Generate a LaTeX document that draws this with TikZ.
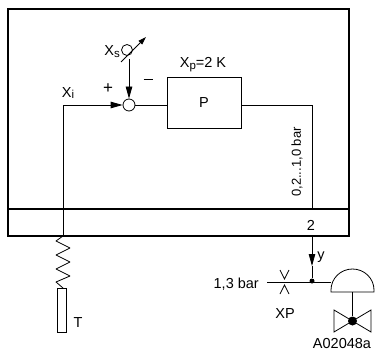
\documentclass[tikz,border=0pt]{standalone}
\usepackage{fontspec}
\setmainfont{Liberation Sans}
\usetikzlibrary{arrows.meta}
\newcommand{\mysub}[1]{\raisebox{-0.25ex}{\fontsize{11.5}{12}\selectfont #1}}
\begin{document}
\begin{tikzpicture}[x=1pt,y=-1pt,
  thin line/.style={line width=0.8pt},
  thick frame/.style={line width=1.6pt},
  lbl/.style={inner sep=0pt,font=\fontsize{14.5}{16}\selectfont},
  tip/.style={-{Triangle[length=12pt,width=6.5pt]}},
  dotnode/.style={circle,fill,inner sep=0pt,minimum size=#1}]
\useasboundingbox (0,0) rectangle (375,361);
% frame
\draw[thick frame] (8,9) rectangle (349,236);
\draw[thick frame] (8,209) -- (349,209);
% summing junction
\node[circle,draw,thin line,minimum size=12pt,inner sep=0pt] (sum) at (129,105) {};
% P box
\node[draw,thin line,minimum width=74pt,minimum height=51pt,inner sep=0pt] (pbox) at (204,102.5) {};
\node[lbl] (plab) at (204,103) {P};
% Xi input
\coordinate (xib) at (63,236);
\coordinate (xic) at (63,105);
\draw[thin line,tip] (xib) -- (xic) -- (sum.west);
% setpoint potentiometer
\node[circle,draw,thin line,minimum size=11pt,inner sep=0pt] (pot) at (127,50) {};
\coordinate (pa) at (121,62);
\coordinate (pb) at (146,37);
\draw[thin line,-{Triangle[length=8pt,width=5pt]}] (pa) -- (pb);
\coordinate (sp) at (129,59);
\draw[thin line,tip] (sp) -- (sum.north);
% labels near sum
\node[lbl,anchor=east] (xs) at (120,52) {X\mysub{s}};
\node[lbl] (minus) at (148,81) {\rule[0.3ex]{9pt}{0.8pt}};
\node[lbl] (plus) at (108,89) {\fontsize{17}{18}\selectfont +};
\node[lbl] (xi) at (68,93) {X\mysub{i}};
\node[lbl] (xp2) at (203,65) {X\mysub{p}=2 K};
% sum to P
\draw[thin line] (sum.east) -- (pbox.west |- sum.east);
% output
\coordinate (oc) at (312,105);
\coordinate (ob) at (312,209);
\draw[thin line] (pbox.east |- oc) -- (oc) -- (ob);
\node[lbl,rotate=90,font=\fontsize{13}{15}\selectfont] (range) at (297,162) {0,2...1,0 bar};
\node[lbl] (two) at (311,225) {2};
% y signal
\coordinate (yt) at (312,236);
\coordinate (ym) at (312,266);
\node[dotnode=5pt] (junc) at (312,281) {};
\draw[thin line,tip] (yt) -- (ym);
\draw[thin line] (ym) -- (junc);
\node[lbl] (ylab) at (321,257) {y};
% supply line
\coordinate (sl) at (267,282);
\coordinate (dl) at (331,282);
\draw[thin line] (sl) -- (dl);
\node[lbl,anchor=east] (supply) at (259,284) {1,3 bar};
% throttle
\draw[thin line] (280,270) -- (284.5,279) -- (289,270);
\draw[thin line] (280,294) -- (284.5,285) -- (289,294);
\node[lbl] (xplab) at (285,314) {XP};
% actuator dome
\draw[thin line] (331,292) -- (331,290) arc[start angle=180,end angle=0,x radius=21.5pt,y radius=21pt] -- (374,292) -- cycle;
\coordinate (domeb) at (352.5,292);
\node[dotnode=9pt] (vc) at (352.5,321) {};
\draw[thin line] (domeb) -- (vc);
\draw[thin line] (352.5,321) -- (334,310) -- (334,332) -- cycle;
\draw[thin line] (352.5,321) -- (371,310) -- (371,332) -- cycle;
\node[lbl] (code) at (342,344) {A02048a};
% resistor and sensor
\draw[thin line,line join=round] (63,236) -- (56,241) -- (70,248) -- (56,255) -- (70,262) -- (56,269) -- (70,276) -- (56,282) -- (63,288);
\node[draw,thin line,minimum width=9pt,minimum height=44pt,inner sep=0pt] (sensor) at (61.5,310) {};
\node[lbl] (tlab) at (78,323) {T};
\end{tikzpicture}
\end{document}
